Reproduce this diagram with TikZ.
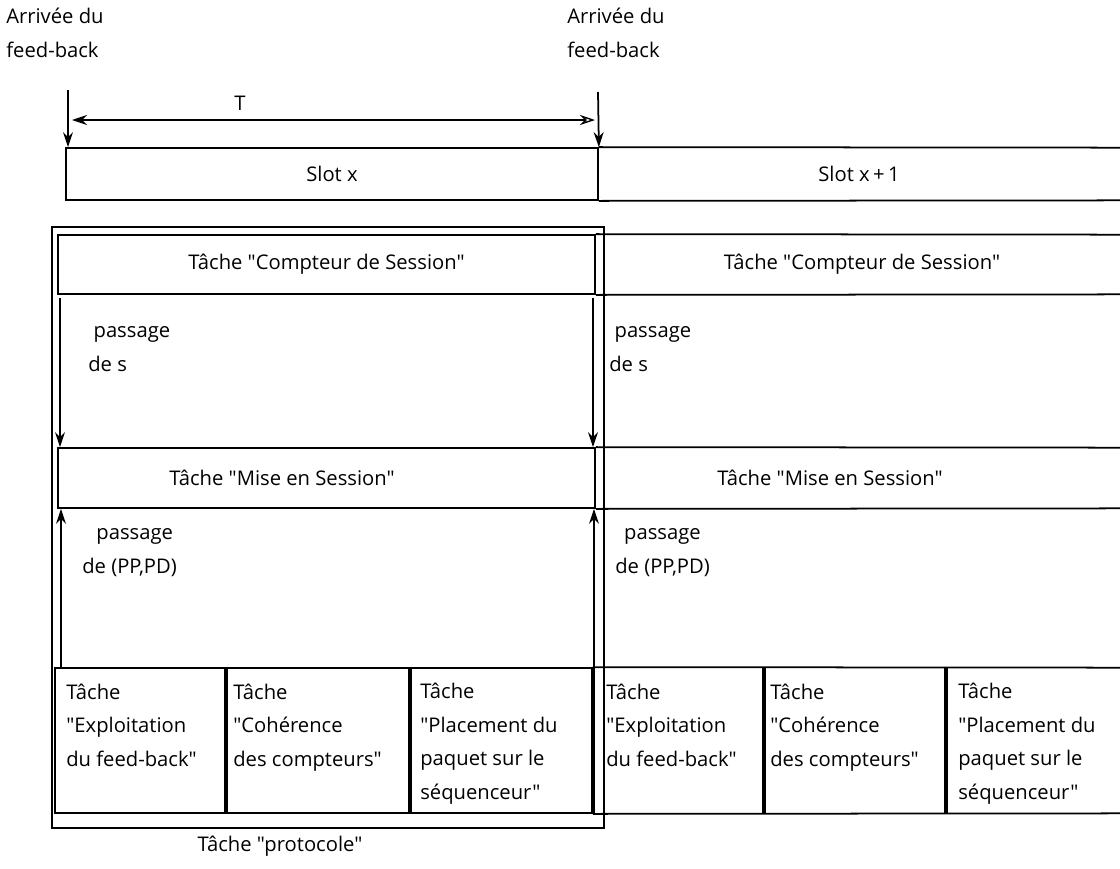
\documentclass[tikz,border=0pt]{standalone}
\usepackage{fontspec}
\setmainfont{Open Sans}[Ligatures=TeXOff]
\usetikzlibrary{arrows.meta, positioning, fit}

\begin{document}
\begin{tikzpicture}[
        x=0.02cm, y=-0.02cm,
        every node/.style={font=\fontsize{11.5}{19}\selectfont},
        cell/.style={draw, line width=1pt, inner sep=0pt},
        row/.style={inner sep=0pt},
        sep/.style={line width=2.4pt},
        txt/.style={anchor=base west, align=left, inner sep=0pt},
        arr/.style={-{Stealth[length=3mm, width=2mm]}, line width=1pt},
    ]
        \useasboundingbox (0,0) rectangle (1120,869);

        % slots and feed-back arrivals (txt nodes sit on the baseline of their last line)
        \node[txt] (arrA) at (6,57) {Arrivée du\\feed-back};
        \node[txt] (arrB) at (567,57) {Arrivée du\\feed-back};
        \node[cell, fit={(66,148) (598,200)}, label={center:Slot x}] (slotA) {};
        \node[row, fit={(598,148) (1120,200)}, label={center:Slot x\,+\,1}] (slotB) {};
        \draw[line width=1pt] (slotA.north east) -- (slotB.north east);
        \draw[line width=1pt] (slotA.south east) -- (slotB.south east);

        \coordinate (fbA) at (68,90);
        \coordinate (fbB) at (598,92);
        \draw[arr] (fbA) -- (fbA |- slotA.north);
        \draw[arr] (fbB) -- (slotA.north east);

        \coordinate (tL) at (72,120);
        \coordinate (tR) at (595,120);
        \draw[{Stealth[length=3mm, width=2mm]}-{Stealth[open, length=3mm, width=2mm]}, line width=0.8pt] (tL) -- (tR);
        \node (tlbl) at (240,103) {T};

        % tasks of slot x and slot x+1
        \node[cell, fit={(52,227) (604,828)}] (proto) {};
        \node (protolbl) at (280,846) {Tâche "protocole"};

        \node[cell, fit={(58,235) (595,294)}, label={center:Tâche "Compteur de Session"}] (csA) {};
        \node[row, fit={(604,235) (1120,294)}, label={center:Tâche "Compteur de Session"}] (csB) {};
        \draw[line width=1pt] (csA.north east) -- (csB.north east);
        \draw[line width=1pt] (csA.south east) -- (csB.south east);

        \node[cell, fit={(58,448) (595,508)}] (msA) {};
        \node[row, fit={(604,448) (1120,508)}] (msB) {};
        \draw[line width=1pt] (msA.north east) -- (msB.north east);
        \draw[line width=1pt] (msA.south east) -- (msB.south east);
        \node (msAt) at (282,478) {Tâche "Mise en Session"};
        \node (msBt) at (830,478) {Tâche "Mise en Session"};

        \node[cell, fit={(55,668) (225,813)}] (tk1) {};
        \node[cell, fit={(225,668) (409,813)}] (tk2) {};
        \node[cell, fit={(409,668) (592,813)}] (tk3) {};
        \node[row, fit={(604,668) (764,813)}] (tk4) {};
        \node[row, fit={(764,668) (946,813)}] (tk5) {};
        \node[row, fit={(946,668) (1120,813)}] (tk6) {};
        \draw[line width=1pt] (tk3.north east) -- (tk6.north east);
        \draw[line width=1pt] (tk3.south east) -- (tk6.south east);
        \draw[sep] (tk1.north east) -- (tk1.south east);
        \draw[sep] (tk2.north east) -- (tk2.south east);
        \draw[sep] (tk3.north east) -- (tk3.south east);
        \draw[sep] (tk5.north west) -- (tk5.south west);
        \draw[sep] (tk6.north west) -- (tk6.south west);

        \node[txt] (t1) at (66,766) {Tâche\\"Exploitation\\du feed-back"};
        \node[txt] (t2) at (233,766) {Tâche\\"Cohérence\\des compteurs"};
        \node[txt] (t3) at (420,799) {Tâche\\"Placement du\\paquet sur le\\séquenceur"};
        \node[txt] (t4) at (606,766) {Tâche\\"Exploitation\\du feed-back"};
        \node[txt] (t5) at (770,766) {Tâche\\"Cohérence\\des compteurs"};
        \node[txt] (t6) at (958,799) {Tâche\\"Placement du\\paquet sur le\\séquenceur"};

        % passing of values
        \coordinate (dnL) at (60,298);
        \coordinate (dnR) at (593,298);
        \draw[arr] (dnL) -- (dnL |- msA.north);
        \draw[arr] (dnR) -- (dnR |- msA.north);
        \node[txt] (psA) at (88,371) {\hspace*{3pt}passage\\de s};
        \node[txt] (psB) at (609,371) {\hspace*{3pt}passage\\de s};

        \coordinate (upL) at (61,668);
        \coordinate (upR) at (594,668);
        \draw[arr] (upL) -- (upL |- msA.south);
        \draw[arr] (upR) -- (upR |- msA.south);
        \node[txt] (ppA) at (82,573) {\hspace*{8pt}passage\\de (PP,PD)};
        \node[txt] (ppB) at (615,573) {\hspace*{5pt}passage\\de (PP,PD)};
    \end{tikzpicture}
\end{document}
